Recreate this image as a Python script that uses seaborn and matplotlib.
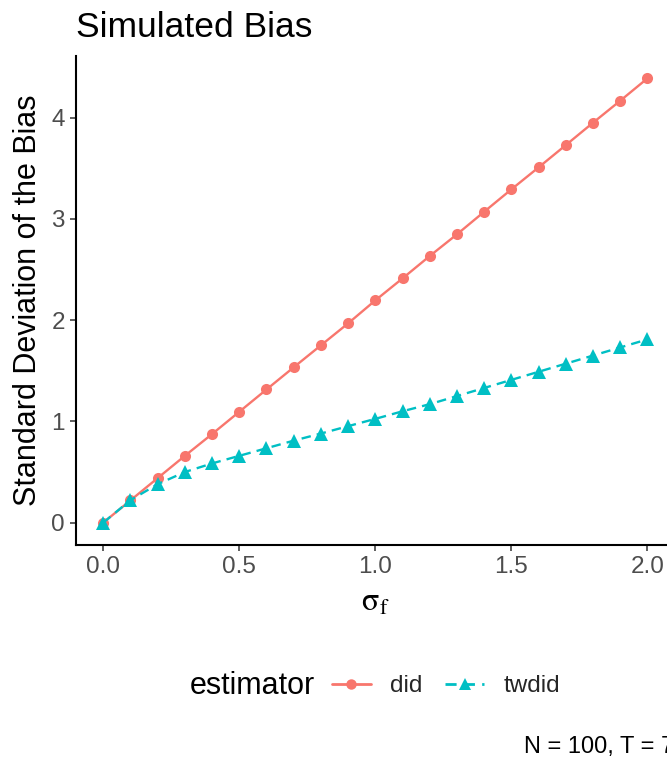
import numpy as np
import pandas as pd
import matplotlib
matplotlib.use("Agg")
import matplotlib.pyplot as plt
import seaborn as sns

# Simulation grid and the standard deviation of the bias for each estimator
sigma_f = [0.0, 0.1, 0.2, 0.3, 0.4, 0.5, 0.6, 0.7, 0.8, 0.9, 1.0,
           1.1, 1.2, 1.3, 1.4, 1.5, 1.6, 1.7, 1.8, 1.9, 2.0]
sd_did = [0.0, 0.22, 0.44, 0.66, 0.875, 1.095, 1.315, 1.534, 1.751, 1.968, 2.195,
          2.412, 2.633, 2.847, 3.07, 3.291, 3.508, 3.728, 3.949, 4.166, 4.387]
sd_twdid = [0.0, 0.222, 0.38, 0.50, 0.585, 0.66, 0.735, 0.81, 0.88, 0.953, 1.025,
            1.10, 1.17, 1.25, 1.33, 1.41, 1.49, 1.57, 1.65, 1.73, 1.81]
estimators = ["did", "twdid"]
x_ticks = [0.0, 0.5, 1.0, 1.5, 2.0]
y_ticks = [0, 1, 2, 3, 4]

df = pd.DataFrame({
    "sigma": sigma_f * 2,
    "sd": sd_did + sd_twdid,
    "estimator": [estimators[0]] * len(sigma_f) + [estimators[1]] * len(sigma_f),
})

sns.set_theme(style="ticks")
plt.rcParams["font.family"] = ["Liberation Sans", "DejaVu Sans"]
plt.rcParams["mathtext.fontset"] = "stix"

W, H = 667, 760
fig = plt.figure(figsize=(W / 100, H / 100), dpi=100)
# panel spans x: 76..674.7 px, y: 56.1..544.9 px
ax = fig.add_axes([76 / W, 1 - 544.9 / H, (674.7 - 76) / W, (544.9 - 56.1) / H])

palette = {"did": "#F8766D", "twdid": "#00BFC4"}
sns.lineplot(
    data=df, x="sigma", y="sd", hue="estimator", style="estimator",
    palette=palette, markers={"did": "o", "twdid": "^"},
    dashes={"did": "", "twdid": (4.0, 2.6)},
    linewidth=1.7, markersize=8, markeredgewidth=0, ax=ax,
)
marker_sizes = {"did": 8.0, "twdid": 9.5}
for line, est in zip(ax.lines[:2], estimators):
    line.set_markersize(marker_sizes[est])

ax.set_xlim(-0.1, 2.1)
ymax = max(sd_did)
ax.set_ylim(-0.05 * ymax, 1.05 * ymax)
ax.set_xticks(x_ticks)
ax.set_xticklabels([f"{v:.1f}" for v in x_ticks])
ax.set_yticks(y_ticks)
ax.set_yticklabels([str(v) for v in y_ticks])

for side in ("top", "right"):
    ax.spines[side].set_visible(False)
for side in ("left", "bottom"):
    ax.spines[side].set_linewidth(1.5)
    ax.spines[side].set_color("black")
ax.tick_params(axis="both", length=4.5, width=1.1, color="#333333",
               labelsize=17.5, labelcolor="#4D4D4D", pad=3.5)

ax.set_xlabel(r"$\mathrm{\sigma}_{\mathrm{f}}$", fontsize=23, color="black")
ax.xaxis.set_label_coords(0.5, -0.088)
ax.set_ylabel("Standard Deviation of the Bias", fontsize=22, color="black")
ax.yaxis.set_label_coords(-0.055, 0.5)

fig.text(76 / W, 1 - 37 / H, "Simulated Bias", fontsize=25.5, color="black",
         ha="left", va="baseline")

# Horizontal legend below the panel, title on the left
leg = ax.get_legend()
handles = list(leg.legend_handles)
labels = [t.get_text() for t in leg.get_texts()]
leg.remove()
for h, est in zip(handles, labels):
    h.set_markersize(marker_sizes[est] - 0.5)
    h.set_linewidth(2.0)
fig.text(190 / W, 1 - 686 / H, "estimator", fontsize=22, color="black",
         ha="left", va="center")
fig.legend(handles, labels, loc="center left",
           bbox_to_anchor=(332 / W, 1 - 686 / H), ncol=2, frameon=False,
           fontsize=17.5, handlelength=1.6, handletextpad=0.78,
           columnspacing=0.95, borderpad=0, borderaxespad=0)

fig.text(674.7 / W, 1 - 747 / H, "N = 100, T = 7", fontsize=17, color="black",
         ha="right", va="center")

fig.savefig("out.png", dpi=100, facecolor="white")
